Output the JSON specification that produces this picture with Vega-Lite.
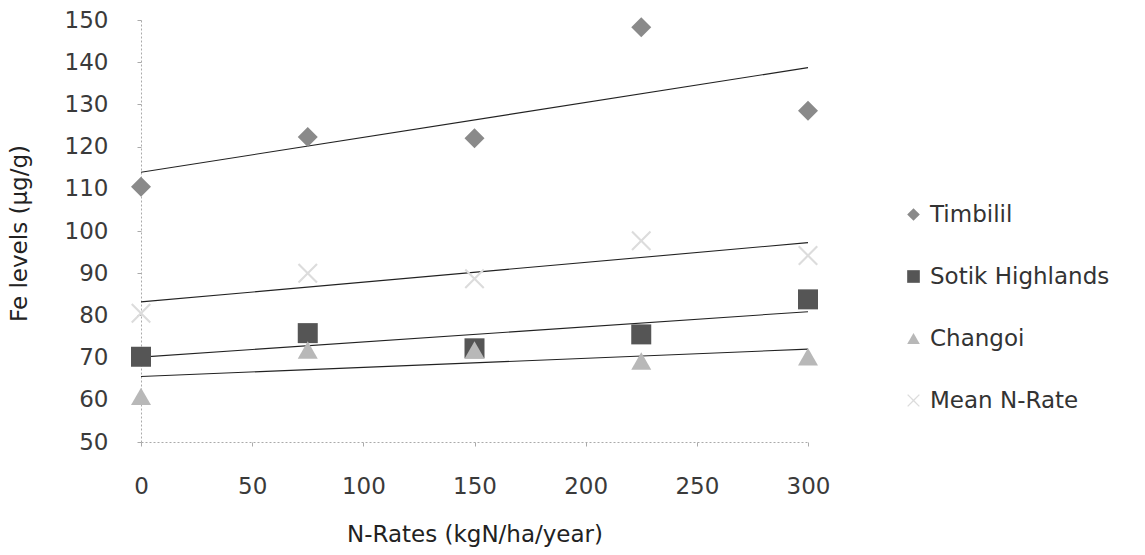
{
  "$schema": "https://vega.github.io/schema/vega-lite/v6.json",
  "width": 667,
  "height": 422,
  "autosize": {"type": "none"},
  "padding": {"left": 141, "top": 20, "right": 337, "bottom": 113},
  "background": "white",
  "config": {
    "view": {"stroke": null},
    "font": "DejaVu Sans",
    "axis": {"grid": false, "labelFont": "DejaVu Sans", "titleFont": "DejaVu Sans", "labelColor": "#3a3a3a", "titleColor": "#222", "titleFontWeight": "normal", "domainColor": "#aaa", "domainDash": [2, 2], "tickColor": "#aaa", "tickSize": 4, "labelFlush": false}
  },
  "data": {
    "values": [
      {"series": "Timbilil", "rate": 0, "fe": 110.5},
      {"series": "Timbilil", "rate": 75, "fe": 122.3},
      {"series": "Timbilil", "rate": 150, "fe": 122},
      {"series": "Timbilil", "rate": 225, "fe": 148.3},
      {"series": "Timbilil", "rate": 300, "fe": 128.5},
      {"series": "Sotik Highlands", "rate": 0, "fe": 70.2},
      {"series": "Sotik Highlands", "rate": 75, "fe": 75.8},
      {"series": "Sotik Highlands", "rate": 150, "fe": 72.2},
      {"series": "Sotik Highlands", "rate": 225, "fe": 75.5},
      {"series": "Sotik Highlands", "rate": 300, "fe": 83.8},
      {"series": "Changoi", "rate": 0, "fe": 60.8},
      {"series": "Changoi", "rate": 75, "fe": 71.8},
      {"series": "Changoi", "rate": 150, "fe": 71.8},
      {"series": "Changoi", "rate": 225, "fe": 69.2},
      {"series": "Changoi", "rate": 300, "fe": 70.2},
      {"series": "Mean N-Rate", "rate": 0, "fe": 80.5},
      {"series": "Mean N-Rate", "rate": 75, "fe": 90},
      {"series": "Mean N-Rate", "rate": 150, "fe": 88.7},
      {"series": "Mean N-Rate", "rate": 225, "fe": 97.7},
      {"series": "Mean N-Rate", "rate": 300, "fe": 94.2}
    ]
  },
  "layer": [
    {
      "transform": [{"regression": "fe", "on": "rate", "groupby": ["series"]}],
      "mark": {"type": "line", "color": "#222", "strokeWidth": 1.1},
      "encoding": {
        "x": {"field": "rate", "type": "quantitative"},
        "y": {"field": "fe", "type": "quantitative"},
        "detail": {"field": "series"}
      }
    },
    {
      "mark": {"type": "point", "filled": true, "opacity": 1},
      "encoding": {
        "x": {
          "field": "rate", "type": "quantitative",
          "scale": {"domain": [0, 300], "nice": false},
          "axis": {"values": [0, 50, 100, 150, 200, 250, 300], "labelFontSize": 23, "labelPadding": 29, "title": "N-Rates (kgN/ha/year)", "titleFontSize": 23, "titleY": 92, "titleBaseline": "middle"}
        },
        "y": {
          "field": "fe", "type": "quantitative",
          "scale": {"domain": [50, 150], "nice": false, "zero": false},
          "axis": {"values": [50, 60, 70, 80, 90, 100, 110, 120, 130, 140, 150], "labelFontSize": 23, "labelPadding": 29, "title": "Fe levels (µg/g)", "titleFontSize": 23, "titleX": -122, "titleY": 213, "titleAngle": -90, "titleBaseline": "middle", "titleAlign": "center"}
        },
        "color": {
          "field": "series", "type": "nominal",
          "scale": {"domain": ["Timbilil", "Sotik Highlands", "Changoi", "Mean N-Rate"], "range": ["#8a8a8a", "#555555", "#b8b8b8", "#dcdcdc"]},
          "legend": {"title": null, "orient": "none", "legendX": 761, "legendY": 183, "labelFontSize": 23, "labelColor": "#333", "rowPadding": 38, "symbolSize": 160, "labelOffset": 5, "labelLimit": 300}
        },
        "shape": {
          "field": "series", "type": "nominal",
          "scale": {"domain": ["Timbilil", "Sotik Highlands", "Changoi", "Mean N-Rate"], "range": ["diamond", "square", "triangle-up", "M-1,-0.85L-0.85,-1L0,-0.15L0.85,-1L1,-0.85L0.15,0L1,0.85L0.85,1L0,0.15L-0.85,1L-1,0.85L-0.15,0Z"]}
        },
        "size": {"value": 400}
      }
    }
  ]
}
